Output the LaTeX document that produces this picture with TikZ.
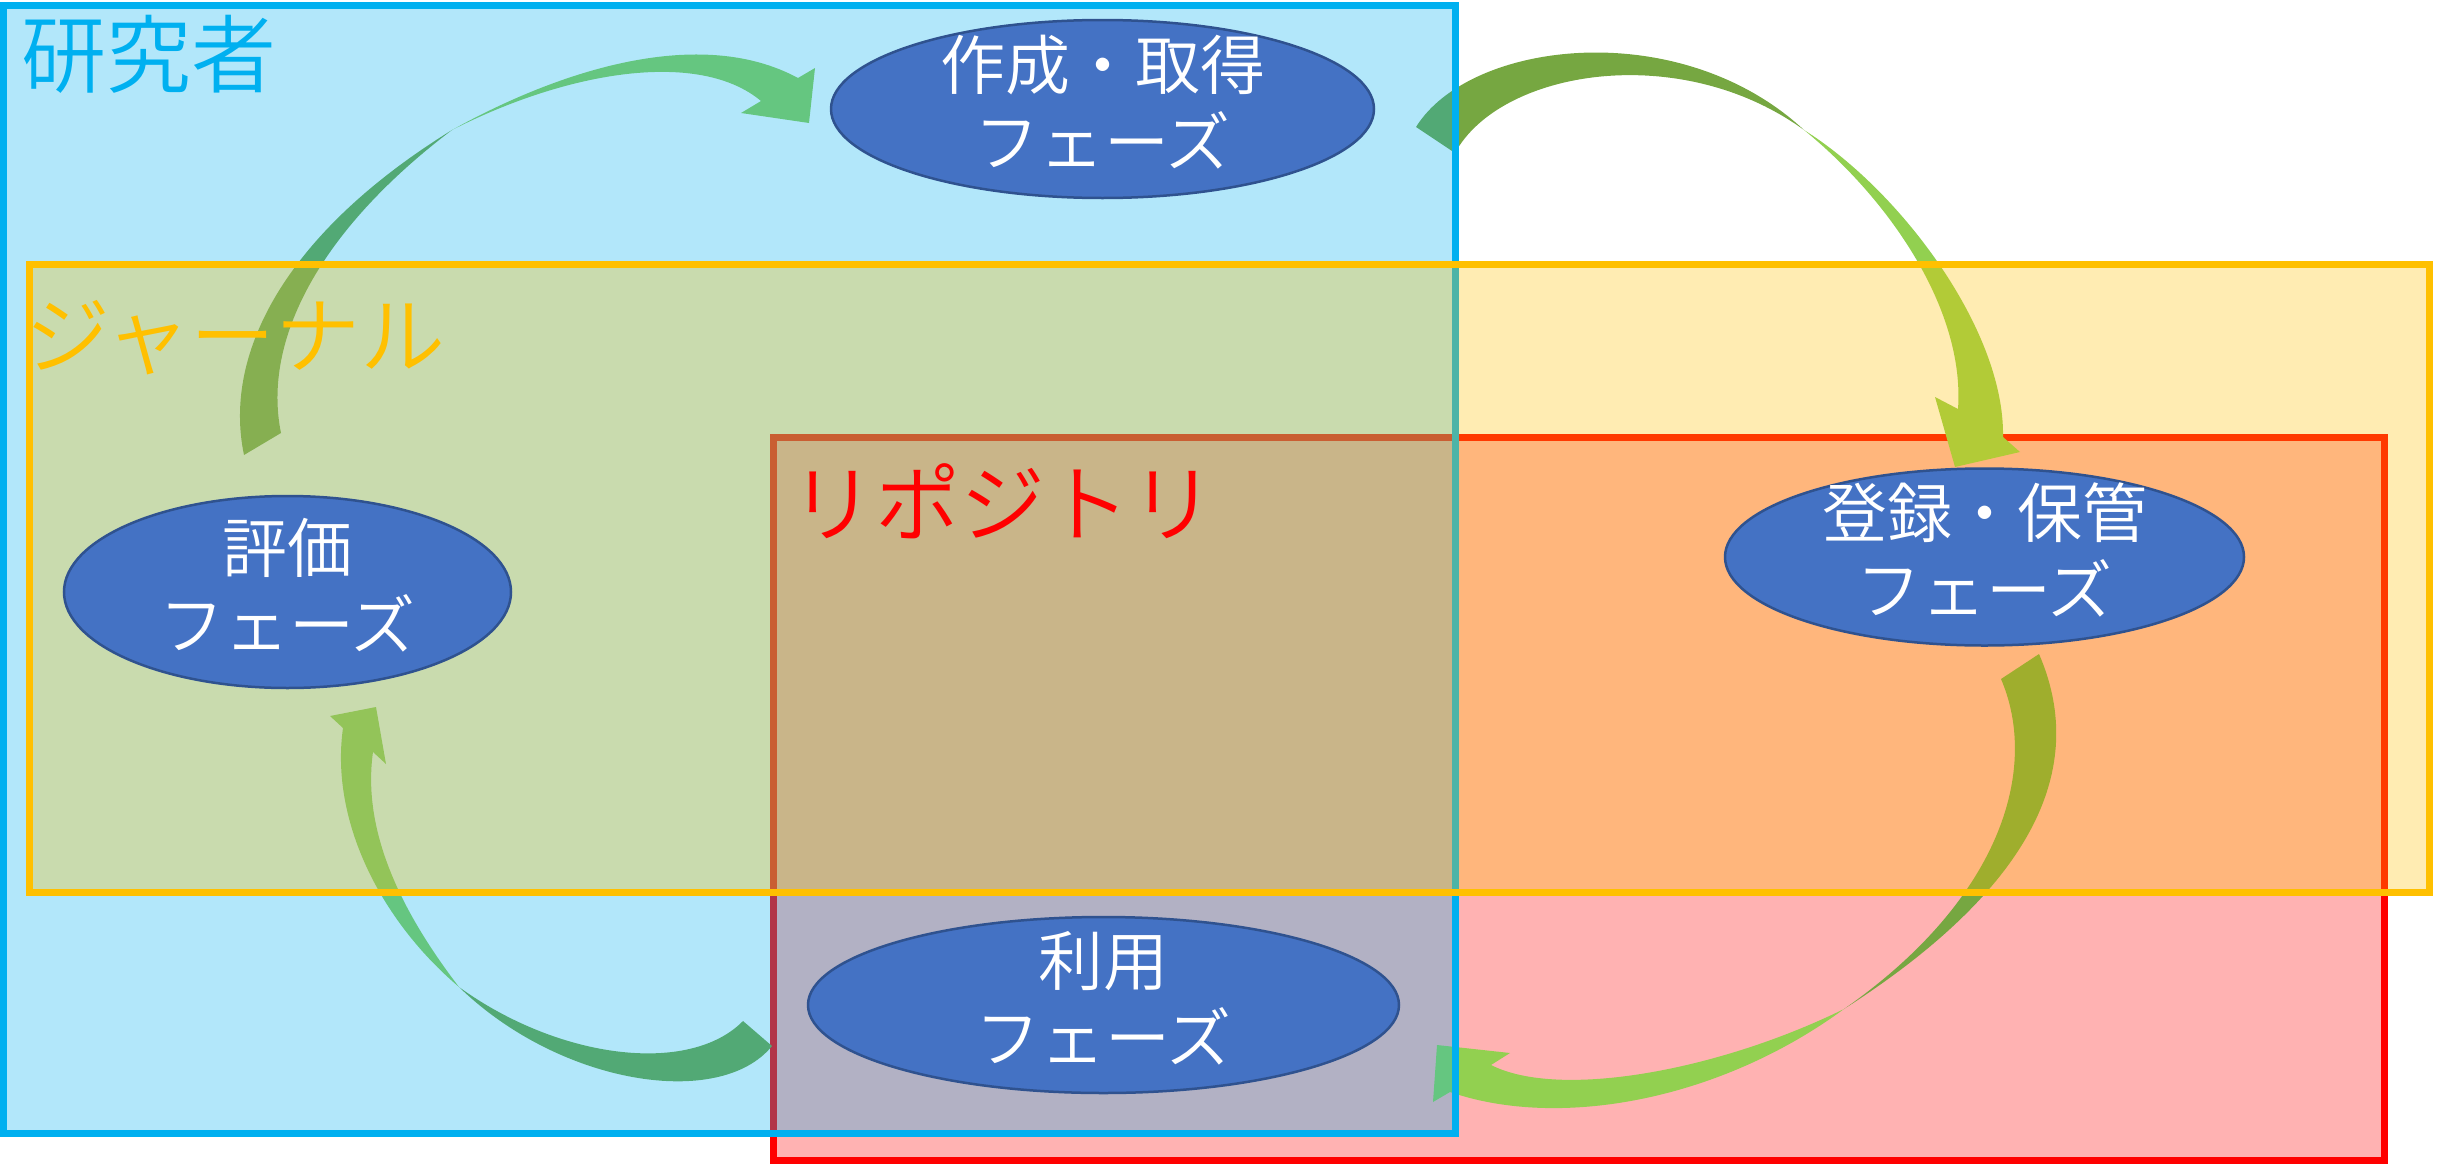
\documentclass[tikz,border=0pt]{standalone}
\usepackage{fontspec}
\newfontfamily\jp{Noto Sans CJK JP DemiLight}
\usetikzlibrary{shapes.geometric}
\definecolor{rbBlue}{HTML}{00B0F0}
\definecolor{rbYellow}{HTML}{FFC000}
\definecolor{rbRed}{HTML}{FF0000}
\definecolor{elFill}{HTML}{4472C4}
\definecolor{elLine}{HTML}{2F528F}
\definecolor{arLight}{HTML}{92D050}
\definecolor{arDark}{RGB}{118,167,65}
\begin{document}
\begin{tikzpicture}[x=1pt,y=-1pt,
  region/.style={line width=7pt},
  regionfill/.style={fill opacity=0.3},
  phase/.style={ellipse, fill=elFill, draw=elLine, line width=2.5pt, inner sep=0pt},
  phasetext/.style={text=white, font=\jp\fontsize{65}{77}\selectfont, align=center, inner sep=0pt},
  grouplabel/.style={font=\jp\fontsize{85}{100}\selectfont, anchor=base west, inner sep=0pt},
  ardark/.style={fill=arDark},
  arlight/.style={fill=arLight}]
\useasboundingbox (0,0) rectangle (2445,1167);
% repository region (bottom layer)
\fill[rbRed, regionfill] (773,437) rectangle (2384,1160);
\draw[region, rbRed] (773,437) rectangle (2384,1160);
% arrows
% evaluation -> creation
\fill[ardark] (244,455) .. controls (222,350) and (290,230) .. (452,130) .. controls (320,230) and (262,340) .. (281,433) -- cycle;
\fill[arlight] (452,130) .. controls (560,70) and (700,25) .. (798,78) -- (815,68) -- (809,123) -- (741,113) -- (761,101) .. controls (700,50) and (570,70) .. (452,130) -- cycle;
% creation -> registration
\fill[ardark] (1416,127) .. controls (1470,40) and (1680,15) .. (1804,130) .. controls (1680,40) and (1500,70) .. (1455,153) -- cycle;
\fill[arlight] (1804,130) .. controls (1900,190) and (2005,330) .. (2003,437) -- (2020,452) -- (1955,467) -- (1935,397) -- (1958,409) .. controls (1965,310) and (1890,200) .. (1804,130) -- cycle;
% registration -> use
\fill[ardark] (2039,654) .. controls (2085,760) and (2045,880) .. (1844,1009) .. controls (2000,900) and (2040,770) .. (2001,679) -- cycle;
\fill[arlight] (1844,1009) .. controls (1720,1100) and (1560,1130) .. (1450,1092) -- (1433,1102) -- (1437,1045) -- (1510,1053) -- (1491,1065) .. controls (1560,1100) and (1720,1070) .. (1844,1009) -- cycle;
% use -> evaluation
\fill[ardark] (743,1021) .. controls (690,1075) and (560,1060) .. (459,987) .. controls (560,1085) and (720,1110) .. (772,1046) -- cycle;
\fill[arlight] (459,987) .. controls (380,920) and (330,820) .. (343,728) -- (330,716) -- (376,707) -- (386,764) -- (373,752) .. controls (362,830) and (400,910) .. (459,987) -- cycle;
% researcher region
\fill[rbBlue, regionfill] (3.5,5.5) rectangle (1455,1133);
\draw[region, rbBlue] (3.5,5.5) rectangle (1455,1133);
% journal region (top layer)
\fill[rbYellow, regionfill] (29.5,264) rectangle (2429,892);
\draw[region, rbYellow] (29.5,264) rectangle (2429,892);
% labels
\node[grouplabel, text=rbBlue] (lres) at (21,86) {研究者};
\node[grouplabel, text=rbYellow] (ljour) at (25,367) {ジャーナル};
\node[grouplabel, text=rbRed] (lrepo) at (790,535) {リポジトリ};
% phases
\node[phase, minimum width=543pt, minimum height=178pt] (make) at (1102.5,109) {};
\node[phasetext] (maket) at ([yshift=7pt]make.center) {作成・取得\\フェーズ};
\node[phase, minimum width=447pt, minimum height=192pt] (eval) at (287.5,592) {};
\node[phasetext] (evalt) at ([yshift=7pt]eval.center) {評価\\フェーズ};
\node[phase, minimum width=519pt, minimum height=177pt] (reg) at (1984.5,557) {};
\node[phasetext] (regt) at ([yshift=7pt]reg.center) {登録・保管\\フェーズ};
\node[phase, minimum width=591pt, minimum height=176pt] (use) at (1103.5,1005) {};
\node[phasetext] (uset) at ([yshift=7pt]use.center) {利用\\フェーズ};
\end{tikzpicture}
\end{document}
